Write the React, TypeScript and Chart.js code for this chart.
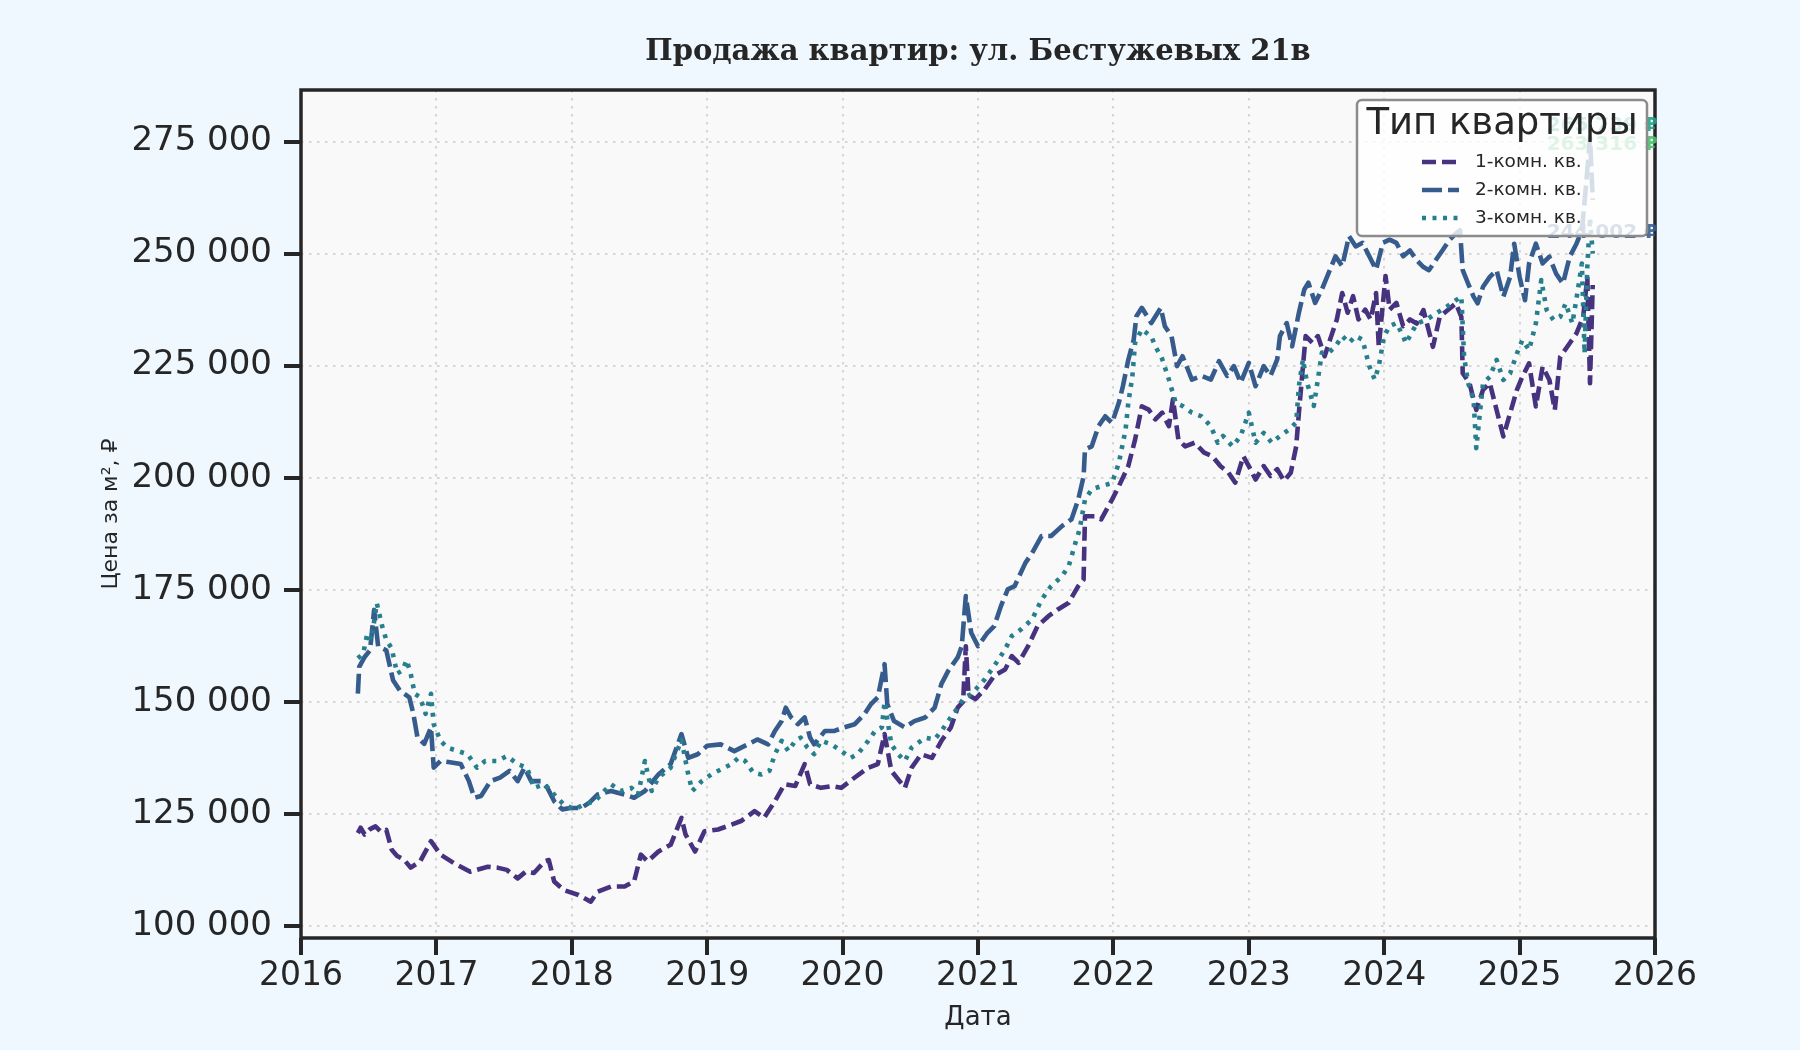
import React, { useEffect, useRef } from 'react';
import { Chart, registerables } from 'chart.js';
import type { ChartConfiguration, Plugin } from 'chart.js';

Chart.register(...registerables);

const TITLE = 'Продажа квартир: ул. Бестужевых 21в';
const LEGEND_TITLE = 'Тип квартиры';
const X_LABEL = 'Дата';
const Y_LABEL = 'Цена за м², ₽';

const seriesLabels = ['1-комн. кв.', '2-комн. кв.', '3-комн. кв.'];
const seriesColors = ['#46327e', '#365c8d', '#277f8e'];
const seriesDashes = [[14, 6], [20, 6], [4, 6.5]];

const xTicks = [2016, 2017, 2018, 2019, 2020, 2021, 2022, 2023, 2024, 2025, 2026];
const yTicks = [100000, 125000, 150000, 175000, 200000, 225000, 250000, 275000];

// dates are decimal years, prices are thousand ₽ per m²
const oneRoomDates = [
  2016.42, 2016.44, 2016.47, 2016.51, 2016.55, 2016.59, 2016.63, 2016.67, 2016.71, 2016.76, 2016.81, 2016.88, 2016.96,
  2017.03, 2017.13, 2017.25, 2017.38, 2017.45, 2017.52, 2017.60, 2017.66, 2017.72, 2017.80, 2017.83, 2017.87, 2017.94,
  2018.05, 2018.14, 2018.19, 2018.29, 2018.39, 2018.46, 2018.51, 2018.56, 2018.64, 2018.73, 2018.81, 2018.84, 2018.91, 2018.98,
  2019.08, 2019.18, 2019.25, 2019.35, 2019.42, 2019.50, 2019.57, 2019.65, 2019.72, 2019.76, 2019.84, 2019.92, 2019.99,
  2020.09, 2020.19, 2020.26, 2020.31, 2020.36, 2020.46, 2020.51, 2020.58, 2020.66, 2020.73, 2020.80, 2020.85, 2020.89, 2020.91, 2020.93, 2020.98,
  2021.05, 2021.12, 2021.20, 2021.25, 2021.30, 2021.37, 2021.44, 2021.52, 2021.59, 2021.67, 2021.74, 2021.78, 2021.79, 2021.86, 2021.91, 2021.99,
  2022.04, 2022.11, 2022.16, 2022.21, 2022.26, 2022.31, 2022.36, 2022.41, 2022.44, 2022.48, 2022.53, 2022.60, 2022.67, 2022.73, 2022.79, 2022.85, 2022.90, 2022.96,
  2023.00, 2023.05, 2023.11, 2023.16, 2023.21, 2023.26, 2023.31, 2023.35, 2023.37, 2023.40, 2023.42, 2023.47, 2023.51, 2023.56, 2023.60, 2023.65, 2023.69, 2023.73, 2023.77, 2023.81, 2023.86, 2023.90, 2023.94, 2023.96,
  2024.01, 2024.04, 2024.09, 2024.14, 2024.19, 2024.24, 2024.29, 2024.36, 2024.41, 2024.47, 2024.53, 2024.57, 2024.58, 2024.63, 2024.68, 2024.73, 2024.78, 2024.83, 2024.88, 2024.93, 2024.98,
  2025.02, 2025.07, 2025.12, 2025.17, 2025.22, 2025.26, 2025.30, 2025.37, 2025.42, 2025.47, 2025.50, 2025.52, 2025.54,
];
const oneRoomPrices = [
  120.7, 121.9, 120.4, 121.6, 122.2, 121.0, 121.4, 117.0, 115.6, 114.8, 113.0, 114.4, 118.9,
  115.9, 114.0, 112.1, 113.2, 113.0, 112.5, 110.6, 112.1, 111.8, 114.4, 114.7, 109.9, 108.0,
  106.9, 105.4, 107.6, 108.8, 108.8, 109.9, 115.9, 114.4, 116.6, 118.1, 124.1, 120.4, 116.6, 121.1,
  121.5, 122.6, 123.4, 125.6, 124.1, 127.8, 131.6, 131.2, 136.1, 131.6, 130.8, 131.2, 130.8,
  133.1, 135.3, 136.1, 142.8, 134.6, 130.8, 135.3, 138.3, 137.5, 141.3, 144.3, 148.7, 150.0, 162.4, 151.5, 150.6,
  152.8, 155.8, 157.2, 160.2, 158.7, 162.4, 166.9, 169.1, 170.6, 172.1, 175.8, 177.3, 191.4, 191.4, 190.7, 195.1,
  198.1, 202.6, 208.5, 215.9, 215.2, 213.0, 214.5, 211.5, 217.5, 208.5, 207.0, 207.8, 205.6, 204.8, 202.6, 201.1, 198.9, 204.8,
  202.6, 199.6, 202.6, 200.4, 201.9, 199.3, 201.1, 207.0, 214.5, 224.9, 231.6, 230.1, 231.6, 227.1, 230.8, 235.3, 241.2, 236.8, 240.5, 235.3, 237.5, 235.3, 241.2, 229.3,
  245.0, 237.5, 239.0, 233.8, 235.3, 234.4, 237.4, 229.2, 235.9, 237.4, 238.9, 235.9, 223.3, 221.1, 215.1, 219.6, 221.1, 215.1, 209.2, 214.4, 219.6,
  222.5, 225.5, 215.9, 224.8, 221.8, 215.1, 227.0, 230.0, 232.2, 235.9, 244.8, 221.1, 243.0,
];

const twoRoomDates = [
  2016.42, 2016.43, 2016.47, 2016.51, 2016.54, 2016.57, 2016.63, 2016.68, 2016.73, 2016.80, 2016.83, 2016.86, 2016.91, 2016.96, 2016.98,
  2017.03, 2017.10, 2017.18, 2017.24, 2017.28, 2017.33, 2017.40, 2017.47, 2017.54, 2017.60, 2017.65, 2017.70, 2017.77, 2017.82, 2017.87, 2017.93, 2017.99,
  2018.07, 2018.13, 2018.19, 2018.29, 2018.39, 2018.46, 2018.54, 2018.64, 2018.73, 2018.81, 2018.86, 2018.93,
  2019.00, 2019.10, 2019.20, 2019.30, 2019.37, 2019.45, 2019.50, 2019.55, 2019.58, 2019.62, 2019.67, 2019.72, 2019.76, 2019.79, 2019.87, 2019.94,
  2020.01, 2020.09, 2020.16, 2020.21, 2020.26, 2020.31, 2020.33, 2020.38, 2020.46, 2020.53, 2020.61, 2020.68, 2020.73, 2020.78, 2020.85, 2020.88, 2020.91, 2020.95,
  2021.00, 2021.07, 2021.12, 2021.17, 2021.22, 2021.27, 2021.35, 2021.40, 2021.47, 2021.54, 2021.62, 2021.69, 2021.74, 2021.78, 2021.79, 2021.84, 2021.89, 2021.94, 2021.99,
  2022.04, 2022.07, 2022.11, 2022.15, 2022.17, 2022.21, 2022.28, 2022.35, 2022.38, 2022.43, 2022.47, 2022.51, 2022.54, 2022.58, 2022.65, 2022.72, 2022.78, 2022.84, 2022.89, 2022.94,
  2023.00, 2023.05, 2023.11, 2023.16, 2023.21, 2023.23, 2023.28, 2023.32, 2023.37, 2023.41, 2023.44, 2023.49, 2023.54, 2023.59, 2023.64, 2023.69, 2023.74, 2023.79, 2023.84, 2023.89, 2023.94, 2023.99,
  2024.04, 2024.09, 2024.14, 2024.19, 2024.24, 2024.29, 2024.33, 2024.38, 2024.43, 2024.48, 2024.53, 2024.56, 2024.58, 2024.62, 2024.66, 2024.69, 2024.73, 2024.78, 2024.83, 2024.88, 2024.93, 2024.96,
  2025.00, 2025.04, 2025.07, 2025.12, 2025.17, 2025.22, 2025.27, 2025.32, 2025.37, 2025.42, 2025.46, 2025.49, 2025.52, 2025.54,
];
const twoRoomPrices = [
  151.8, 157.8, 160.0, 161.5, 170.5, 162.3, 161.5, 154.8, 152.5, 151.0, 147.3, 142.1, 140.6, 144.3, 135.3,
  136.8, 136.5, 136.1, 132.3, 128.6, 129.0, 132.3, 133.1, 134.6, 132.3, 135.3, 132.3, 132.3, 130.8, 127.8, 126.0, 126.3,
  126.3, 127.5, 129.3, 130.1, 129.3, 128.6, 130.1, 133.8, 136.1, 142.8, 137.5, 138.3,
  140.2, 140.5, 139.0, 140.5, 141.6, 140.5, 143.5, 145.7, 148.7, 146.5, 145.0, 146.5, 142.0, 140.5, 143.5, 143.5,
  144.3, 145.0, 147.2, 149.5, 151.0, 158.4, 149.5, 145.7, 144.3, 145.7, 146.5, 148.7, 154.0, 156.9, 159.9, 162.4, 173.6, 165.4,
  162.4, 165.4, 166.9, 171.4, 175.1, 175.8, 181.0, 183.2, 187.0, 187.0, 189.2, 190.7, 195.1, 200.3, 206.3, 207.0, 211.5, 213.7, 212.2,
  216.7, 220.4, 226.3, 230.8, 236.0, 237.9, 234.5, 237.9, 233.8, 231.5, 224.9, 227.1, 224.9, 221.9, 222.7, 221.9, 226.0, 222.7, 224.9, 221.2,
  225.6, 220.4, 224.9, 222.7, 226.4, 231.6, 234.5, 229.3, 236.8, 242.0, 243.5, 239.0, 242.0, 245.7, 249.4, 247.2, 253.9, 251.6, 252.4, 249.4, 246.4, 252.4,
  253.1, 252.4, 249.4, 250.7, 248.5, 247.0, 246.3, 248.5, 250.7, 253.0, 254.5, 255.2, 246.3, 243.3, 240.4, 238.9, 242.6, 244.8, 246.3, 240.4, 244.8, 252.2,
  244.8, 239.6, 247.8, 252.2, 247.8, 249.3, 245.5, 243.3, 249.3, 252.2, 255.2, 265.0, 276.0, 262.0,
];

const threeRoomDates = [
  2016.42, 2016.46, 2016.49, 2016.52, 2016.56, 2016.60, 2016.63, 2016.67, 2016.71, 2016.75, 2016.78, 2016.81, 2016.84, 2016.88, 2016.92, 2016.96, 2016.98,
  2017.03, 2017.08, 2017.15, 2017.23, 2017.30, 2017.36, 2017.45, 2017.52, 2017.60, 2017.67, 2017.72, 2017.80, 2017.87, 2017.94,
  2018.02, 2018.09, 2018.17, 2018.24, 2018.29, 2018.36, 2018.44, 2018.49, 2018.54, 2018.59, 2018.64, 2018.73, 2018.81, 2018.86, 2018.89, 2018.96,
  2019.03, 2019.10, 2019.18, 2019.23, 2019.28, 2019.34, 2019.40, 2019.46, 2019.50, 2019.55, 2019.60, 2019.65, 2019.69, 2019.74, 2019.79, 2019.84, 2019.92, 2019.99,
  2020.06, 2020.11, 2020.19, 2020.24, 2020.29, 2020.31, 2020.36, 2020.41, 2020.46, 2020.51, 2020.56, 2020.61, 2020.68, 2020.73, 2020.78, 2020.85, 2020.90, 2020.95,
  2021.05, 2021.12, 2021.20, 2021.25, 2021.32, 2021.40, 2021.47, 2021.54, 2021.62, 2021.67, 2021.72, 2021.75, 2021.79, 2021.84, 2021.91, 2021.99,
  2022.04, 2022.09, 2022.11, 2022.14, 2022.16, 2022.21, 2022.28, 2022.31, 2022.36, 2022.41, 2022.46, 2022.51, 2022.58, 2022.65, 2022.72, 2022.77, 2022.81, 2022.88, 2022.94,
  2023.00, 2023.05, 2023.11, 2023.17, 2023.23, 2023.30, 2023.35, 2023.37, 2023.40, 2023.43, 2023.48, 2023.51, 2023.54, 2023.59, 2023.64, 2023.69, 2023.74, 2023.79, 2023.84, 2023.89, 2023.93, 2023.96,
  2024.00, 2024.04, 2024.09, 2024.14, 2024.16, 2024.24, 2024.31, 2024.38, 2024.46, 2024.53, 2024.57, 2024.59, 2024.62, 2024.66, 2024.68, 2024.73, 2024.78, 2024.83, 2024.88, 2024.93, 2024.98,
  2025.02, 2025.07, 2025.12, 2025.16, 2025.20, 2025.25, 2025.30, 2025.34, 2025.39, 2025.43, 2025.46, 2025.48, 2025.50, 2025.52, 2025.54,
];
const threeRoomPrices = [
  159.7, 160.8, 165.3, 163.8, 172.0, 166.8, 163.8, 161.9, 156.3, 157.0, 159.3, 156.3, 151.8, 151.0, 147.3, 151.8, 145.0,
  141.3, 139.8, 139.1, 138.3, 135.3, 136.8, 136.8, 137.9, 136.1, 135.3, 130.8, 131.6, 129.3, 127.1,
  126.0, 127.1, 127.8, 130.1, 131.6, 130.1, 130.8, 129.3, 136.8, 130.1, 133.1, 135.3, 141.5, 133.8, 130.1, 132.3,
  133.8, 134.9, 136.1, 137.5, 136.8, 134.2, 133.8, 134.6, 138.3, 141.3, 139.0, 141.3, 142.0, 139.8, 138.3, 141.3, 140.5, 139.0,
  137.5, 138.3, 141.3, 143.5, 144.3, 150.0, 140.5, 138.3, 136.8, 139.8, 140.9, 142.0, 141.6, 143.5, 145.7, 148.7, 151.0, 151.7,
  155.0, 158.0, 161.7, 164.7, 166.2, 168.4, 172.8, 175.8, 178.0, 180.3, 185.5, 188.4, 195.1, 197.4, 198.1, 198.8,
  203.3, 210.7, 216.7, 222.6, 230.1, 233.1, 231.5, 229.3, 226.5, 221.9, 216.7, 216.0, 214.5, 213.7, 211.5, 207.8, 209.3, 207.0, 209.3,
  214.5, 207.8, 210.0, 207.8, 209.3, 210.8, 212.3, 220.4, 226.4, 221.2, 216.0, 221.9, 227.9, 227.9, 229.3, 231.6, 230.1, 231.6, 230.8, 224.9, 221.9, 224.9,
  231.6, 233.8, 234.5, 231.6, 230.0, 234.4, 235.2, 236.6, 238.1, 239.6, 240.4, 227.0, 221.1, 217.4, 206.6, 221.1, 222.5, 226.3, 221.8, 223.3, 227.7,
  230.7, 228.5, 234.4, 244.1, 237.4, 235.2, 235.9, 238.9, 234.4, 241.8, 247.8, 227.7, 247.0, 258.0, 250.0,
];

// value labels at the right edge (mostly hidden by the legend)
const noteTexts = ['265 739 ₽', '263 316 ₽', '244 002 ₽'];
const noteValues = [278500, 274200, 254700];
const noteColors = ['#20a386', '#4ac16d', '#365c8d'];

const fmt = (v: number) => String(Math.round(v)).replace(/\B(?=(\d{3})+(?!\d))/g, ' ');
const toPoints = (dates: number[], prices: number[]) => dates.map((d, i) => ({ x: d, y: prices[i] * 1000 }));

const INK = '#262626';
const GRID = '#d6d6d6';

const decorPlugin: Plugin = {
  id: 'decor',
  beforeDraw(chart) {
    const { ctx, chartArea: a } = chart;
    ctx.save();
    ctx.fillStyle = '#f9f9f9';
    ctx.fillRect(a.left, a.top, a.right - a.left, a.bottom - a.top);
    ctx.restore();
  },
  afterDatasetsDraw(chart) {
    const { ctx, chartArea: a } = chart;
    ctx.save();
    ctx.strokeStyle = INK;
    ctx.lineWidth = 3.5;
    ctx.strokeRect(a.left, a.top, a.right - a.left, a.bottom - a.top);
    ctx.restore();
  },
  afterDraw(chart) {
    const { ctx, chartArea: a } = chart;
    const yScale = chart.scales.y;
    ctx.save();

    // title
    ctx.fillStyle = INK;
    ctx.font = 'bold 29px "DejaVu Serif"';
    ctx.textAlign = 'center';
    ctx.textBaseline = 'alphabetic';
    ctx.fillText(TITLE, (a.left + a.right) / 2, 60);

    // notes
    ctx.font = 'bold 20px "DejaVu Sans"';
    ctx.textAlign = 'right';
    ctx.textBaseline = 'middle';
    noteTexts.forEach((t, i) => {
      ctx.globalAlpha = 0.9;
      ctx.fillStyle = noteColors[i];
      ctx.fillText(t, a.right + 3, yScale.getPixelForValue(noteValues[i]));
    });
    ctx.globalAlpha = 1;

    // legend
    const right = a.right - 8;
    const left = right - 290;
    const top = a.top + 10;
    const h = 136;
    ctx.beginPath();
    ctx.roundRect(left, top, right - left, h, 5);
    ctx.fillStyle = 'rgba(255,255,255,0.8)';
    ctx.fill();
    ctx.lineWidth = 2.5;
    ctx.strokeStyle = '#8c8c8c';
    ctx.stroke();

    ctx.fillStyle = INK;
    ctx.font = '37px "DejaVu Sans"';
    ctx.textAlign = 'center';
    ctx.textBaseline = 'alphabetic';
    ctx.fillText(LEGEND_TITLE, (left + right) / 2, top + 34);

    ctx.font = '18.5px "DejaVu Sans"';
    ctx.textAlign = 'left';
    ctx.textBaseline = 'middle';
    seriesLabels.forEach((label, i) => {
      const yc = top + 62 + i * 28;
      ctx.save();
      ctx.strokeStyle = seriesColors[i];
      ctx.lineWidth = 4.4;
      ctx.lineCap = 'butt';
      ctx.setLineDash(seriesDashes[i]);
      ctx.beginPath();
      ctx.moveTo(left + 65, yc);
      ctx.lineTo(left + 102, yc);
      ctx.stroke();
      ctx.restore();
      ctx.fillStyle = INK;
      ctx.fillText(label, left + 118, yc);
    });
    ctx.restore();
  },
};

const App: React.FC = () => {
  const canvasRef = useRef<HTMLCanvasElement>(null);
  const chartRef = useRef<Chart | null>(null);

  useEffect(() => {
    if (!canvasRef.current) return;
    if (chartRef.current) chartRef.current.destroy();

    const series = [
      toPoints(oneRoomDates, oneRoomPrices),
      toPoints(twoRoomDates, twoRoomPrices),
      toPoints(threeRoomDates, threeRoomPrices),
    ];

    const config: ChartConfiguration = {
      type: 'line',
      data: {
        datasets: series.map((data, i) => ({
          label: seriesLabels[i],
          data,
          borderColor: seriesColors[i],
          backgroundColor: seriesColors[i],
          borderWidth: 4.6,
          borderDash: seriesDashes[i],
          borderCapStyle: 'butt',
          borderJoinStyle: 'round',
          pointRadius: 0,
          tension: 0,
          fill: false,
          order: 2 - i,
        })),
      },
      options: {
        animation: false,
        responsive: false,
        devicePixelRatio: 1,
        layout: { padding: { top: 90, right: 145, bottom: 0, left: 0 } },
        plugins: {
          legend: { display: false },
          title: { display: false },
          tooltip: { enabled: false },
        },
        scales: {
          x: {
            type: 'linear',
            min: 2016,
            max: 2026,
            afterBuildTicks: (s: any) => {
              s.ticks = xTicks.map((v) => ({ value: v }));
            },
            afterFit: (s: any) => {
              s.height = 112;
            },
            ticks: {
              color: INK,
              font: { family: 'DejaVu Sans', size: 33 },
              padding: 2,
              maxRotation: 0,
              autoSkip: false,
              callback: (v: any) => String(v),
            },
            grid: {
              color: GRID,
              lineWidth: 2,
              tickColor: INK,
              tickWidth: 4,
              tickLength: 17,
            },
            border: { display: false, dash: [2.5, 5.5] },
            title: {
              display: true,
              text: X_LABEL,
              color: INK,
              font: { family: 'DejaVu Sans', size: 26 },
              padding: { top: 0, bottom: 16 },
            },
          },
          y: {
            type: 'linear',
            min: 97300,
            max: 286500,
            afterBuildTicks: (s: any) => {
              s.ticks = yTicks.map((v) => ({ value: v }));
            },
            afterFit: (s: any) => {
              s.width = 301;
            },
            ticks: {
              color: INK,
              font: { family: 'DejaVu Sans', size: 34 },
              padding: 12,
              autoSkip: false,
              callback: (v: any) => fmt(Number(v)),
            },
            grid: {
              color: GRID,
              lineWidth: 2,
              tickColor: INK,
              tickWidth: 4,
              tickLength: 17,
            },
            border: { display: false, dash: [2.5, 5.5] },
            title: {
              display: true,
              text: Y_LABEL,
              color: INK,
              font: { family: 'DejaVu Sans', size: 22 },
              padding: { top: 98, bottom: 0 },
            },
          },
        },
      },
      plugins: [decorPlugin],
    };

    chartRef.current = new Chart(canvasRef.current, config);

    return () => {
      if (chartRef.current) {
        chartRef.current.destroy();
        chartRef.current = null;
      }
    };
  }, []);

  return (
    <div
      style={{
        position: 'absolute',
        left: 0,
        top: 0,
        width: 1800,
        height: 1050,
        background: '#f0f8ff',
      }}
    >
      <canvas ref={canvasRef} width={1800} height={1050} style={{ display: 'block' }} />
    </div>
  );
};

export default App;
